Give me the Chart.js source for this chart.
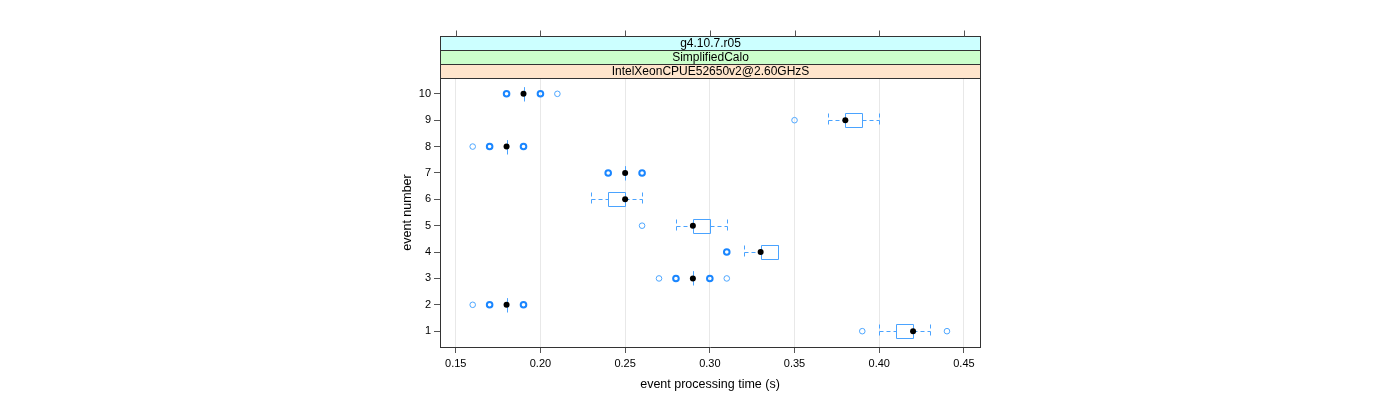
<!DOCTYPE html>
<html><head><meta charset="utf-8">
<script src="https://cdn.jsdelivr.net/npm/chart.js@4/dist/chart.umd.min.js"></script>
<style>html,body{margin:0;padding:0;background:#fff}canvas{display:block}</style>
</head><body>
<canvas id="c" width="1400" height="400"></canvas>
<script>
// ---- data ----
const events       = [1, 2, 3, 4, 5, 6, 7, 8, 9, 10];
const whiskerLow   = [0.40, 0.18, 0.29, 0.32, 0.28, 0.23, 0.25, 0.18, 0.37, 0.19];
const quartile1    = [0.41, 0.18, 0.29, 0.33, 0.29, 0.24, 0.25, 0.18, 0.38, 0.19];
const medians      = [0.42, 0.18, 0.29, 0.33, 0.29, 0.25, 0.25, 0.18, 0.38, 0.19];
const quartile3    = [0.42, 0.18, 0.29, 0.34, 0.30, 0.25, 0.25, 0.18, 0.39, 0.19];
const whiskerHigh  = [0.43, 0.18, 0.29, 0.34, 0.31, 0.26, 0.25, 0.18, 0.40, 0.19];
const outlierEvent = [1, 1, 2, 2, 2, 3, 3, 3, 3, 4, 5, 7, 7, 8, 8, 8, 9, 10, 10, 10];
const outlierValue = [0.39, 0.44, 0.16, 0.17, 0.19, 0.27, 0.28, 0.30, 0.31, 0.31, 0.26, 0.24, 0.26, 0.16, 0.17, 0.19, 0.35, 0.18, 0.20, 0.21];
const outlierCount = [1, 1, 1, 3, 3, 1, 3, 3, 1, 2, 1, 3, 3, 1, 3, 3, 1, 3, 3, 1];
const xTicks = [0.15, 0.20, 0.25, 0.30, 0.35, 0.40, 0.45];
const yTicks = [1, 2, 3, 4, 5, 6, 7, 8, 9, 10];
const stripLabels = ['IntelXeonCPUE52650v2@2.60GHzS', 'SimplifiedCalo', 'g4.10.7.r05'];
const xTitle = 'event processing time (s)';
const yTitle = 'event number';

// ---- styles ----
const FONT = '"Liberation Sans", Arial, Helvetica, sans-serif';
const AXIS = '#333333';
const TICK = '#555555';
const BOXCOL = '#4aa3ff';
const stripColors = ['#ffe5cc', '#ccffcc', '#ccffff'];
const BOX_HALF = 0.265; // half box height in category units

const single = [], multi = [];
outlierValue.forEach((v, i) => {
  (outlierCount[i] > 1 ? multi : single).push({x: v, y: outlierEvent[i]});
});
const medianPts = events.map((e, i) => ({x: medians[i], y: e}));

const boxPlugin = {
  id: 'bw',
  beforeDatasetsDraw(chart) {
    const {ctx, scales: {x, y}} = chart;
    ctx.save();
    ctx.lineWidth = 1;
    ctx.strokeStyle = BOXCOL;
    events.forEach((e, i) => {
      const yc = Math.round(y.getPixelForValue(e)) + 0.5;
      const yt = Math.round(y.getPixelForValue(e + BOX_HALF)) + 0.5;
      const yb = Math.round(y.getPixelForValue(e - BOX_HALF)) + 0.5;
      const px = v => Math.round(x.getPixelForValue(v)) + 0.5;
      // whiskers (dashed)
      ctx.setLineDash([4, 3]);
      ctx.beginPath();
      ctx.moveTo(px(whiskerLow[i]), yc); ctx.lineTo(px(quartile1[i]), yc);
      ctx.moveTo(px(quartile3[i]), yc); ctx.lineTo(px(whiskerHigh[i]), yc);
      ctx.moveTo(px(whiskerLow[i]), yt); ctx.lineTo(px(whiskerLow[i]), yb);
      ctx.moveTo(px(whiskerHigh[i]), yt); ctx.lineTo(px(whiskerHigh[i]), yb);
      ctx.stroke();
      // box
      ctx.setLineDash([]);
      ctx.beginPath();
      const x1 = px(quartile1[i]), x2 = px(quartile3[i]);
      if (x2 - x1 < 1) { ctx.moveTo(x1, yt); ctx.lineTo(x1, yb); }
      else ctx.rect(x1, yt, x2 - x1, yb - yt);
      ctx.stroke();
    });
    ctx.restore();
  },
  afterDraw(chart) {
    const {ctx, chartArea: a, scales: {x}} = chart;
    ctx.save();
    const L = Math.round(a.left) + 0.5, R = Math.round(a.right) + 0.5;
    const T = Math.round(a.top) + 0.5;
    const stripH = 14;
    // strips (bottom to top)
    stripLabels.forEach((lab, k) => {
      const yb = T - k * stripH;
      const yt = yb - stripH;
      ctx.fillStyle = stripColors[k];
      ctx.fillRect(L, yt, R - L, stripH);
      ctx.strokeStyle = AXIS; ctx.lineWidth = 1;
      ctx.strokeRect(L, yt, R - L, stripH);
      ctx.fillStyle = '#000';
      ctx.font = '12px ' + FONT;
      ctx.textAlign = 'center'; ctx.textBaseline = 'middle';
      ctx.fillText(lab, (L + R) / 2, (yt + yb) / 2 + 0.5);
    });
    // panel top/right border
    ctx.strokeStyle = AXIS;
    ctx.beginPath();
    ctx.moveTo(L, T); ctx.lineTo(R, T);
    ctx.moveTo(R, T); ctx.lineTo(R, Math.round(a.bottom) + 1);
    ctx.stroke();
    // top ticks above strips
    const topY = T - 3 * stripH;
    ctx.strokeStyle = TICK;
    ctx.beginPath();
    xTicks.forEach(v => {
      const px = Math.round(x.getPixelForValue(v)) + 0.5;
      ctx.moveTo(px, topY); ctx.lineTo(px, topY - 6);
    });
    ctx.stroke();
    ctx.restore();
  }
};

new Chart(document.getElementById('c'), {
  type: 'scatter',
  data: {
    datasets: [
      {label: 'outliers', data: single, pointStyle: 'circle', pointRadius: 2.8,
       borderWidth: 1, borderColor: '#4da6ff', backgroundColor: 'rgba(0,0,0,0)'},
      {label: 'outliers (repeated)', data: multi, pointStyle: 'circle', pointRadius: 2.8,
       borderWidth: 2, borderColor: '#1a86ff', backgroundColor: 'rgba(0,0,0,0)'},
      {label: 'median', data: medianPts, pointStyle: 'circle', pointRadius: 3,
       borderWidth: 0, backgroundColor: '#000', borderColor: '#000'}
    ]
  },
  options: {
    responsive: false, animation: false, devicePixelRatio: 1,
    layout: {padding: {left: 390, right: 420, top: 78, bottom: 0}},
    plugins: {legend: {display: false}, tooltip: {enabled: false}},
    events: [],
    scales: {
      x: {
        type: 'linear', min: 0.1407, max: 0.4595,
        afterBuildTicks: s => { s.ticks = xTicks.map(v => ({value: v})); },
        afterFit: s => { s.height = 53; },
        grid: {color: '#e8e8e8', tickColor: TICK, tickLength: 6, drawOnChartArea: true},
        border: {display: true, color: AXIS},
        ticks: {color: '#000', font: {family: FONT, size: 11}, padding: 4, maxRotation: 0,
                callback: v => v.toFixed(2)},
        title: {display: true, text: xTitle, color: '#000', font: {family: FONT, size: 12.5},
                padding: {top: 0, bottom: 8}}
      },
      y: {
        type: 'linear', min: 0.4, max: 10.6,
        afterBuildTicks: s => { s.ticks = yTicks.map(v => ({value: v})); },
        afterFit: s => { s.width = 50; },
        grid: {drawOnChartArea: false, tickColor: TICK, tickLength: 6},
        border: {display: true, color: AXIS},
        ticks: {color: '#000', font: {family: FONT, size: 11}, padding: 3,
                callback: v => String(v)},
        title: {display: true, text: yTitle, color: '#000', font: {family: FONT, size: 12.5},
                padding: {top: 10.5, bottom: 0}}
      }
    }
  },
  plugins: [boxPlugin]
});
</script>
</body></html>
